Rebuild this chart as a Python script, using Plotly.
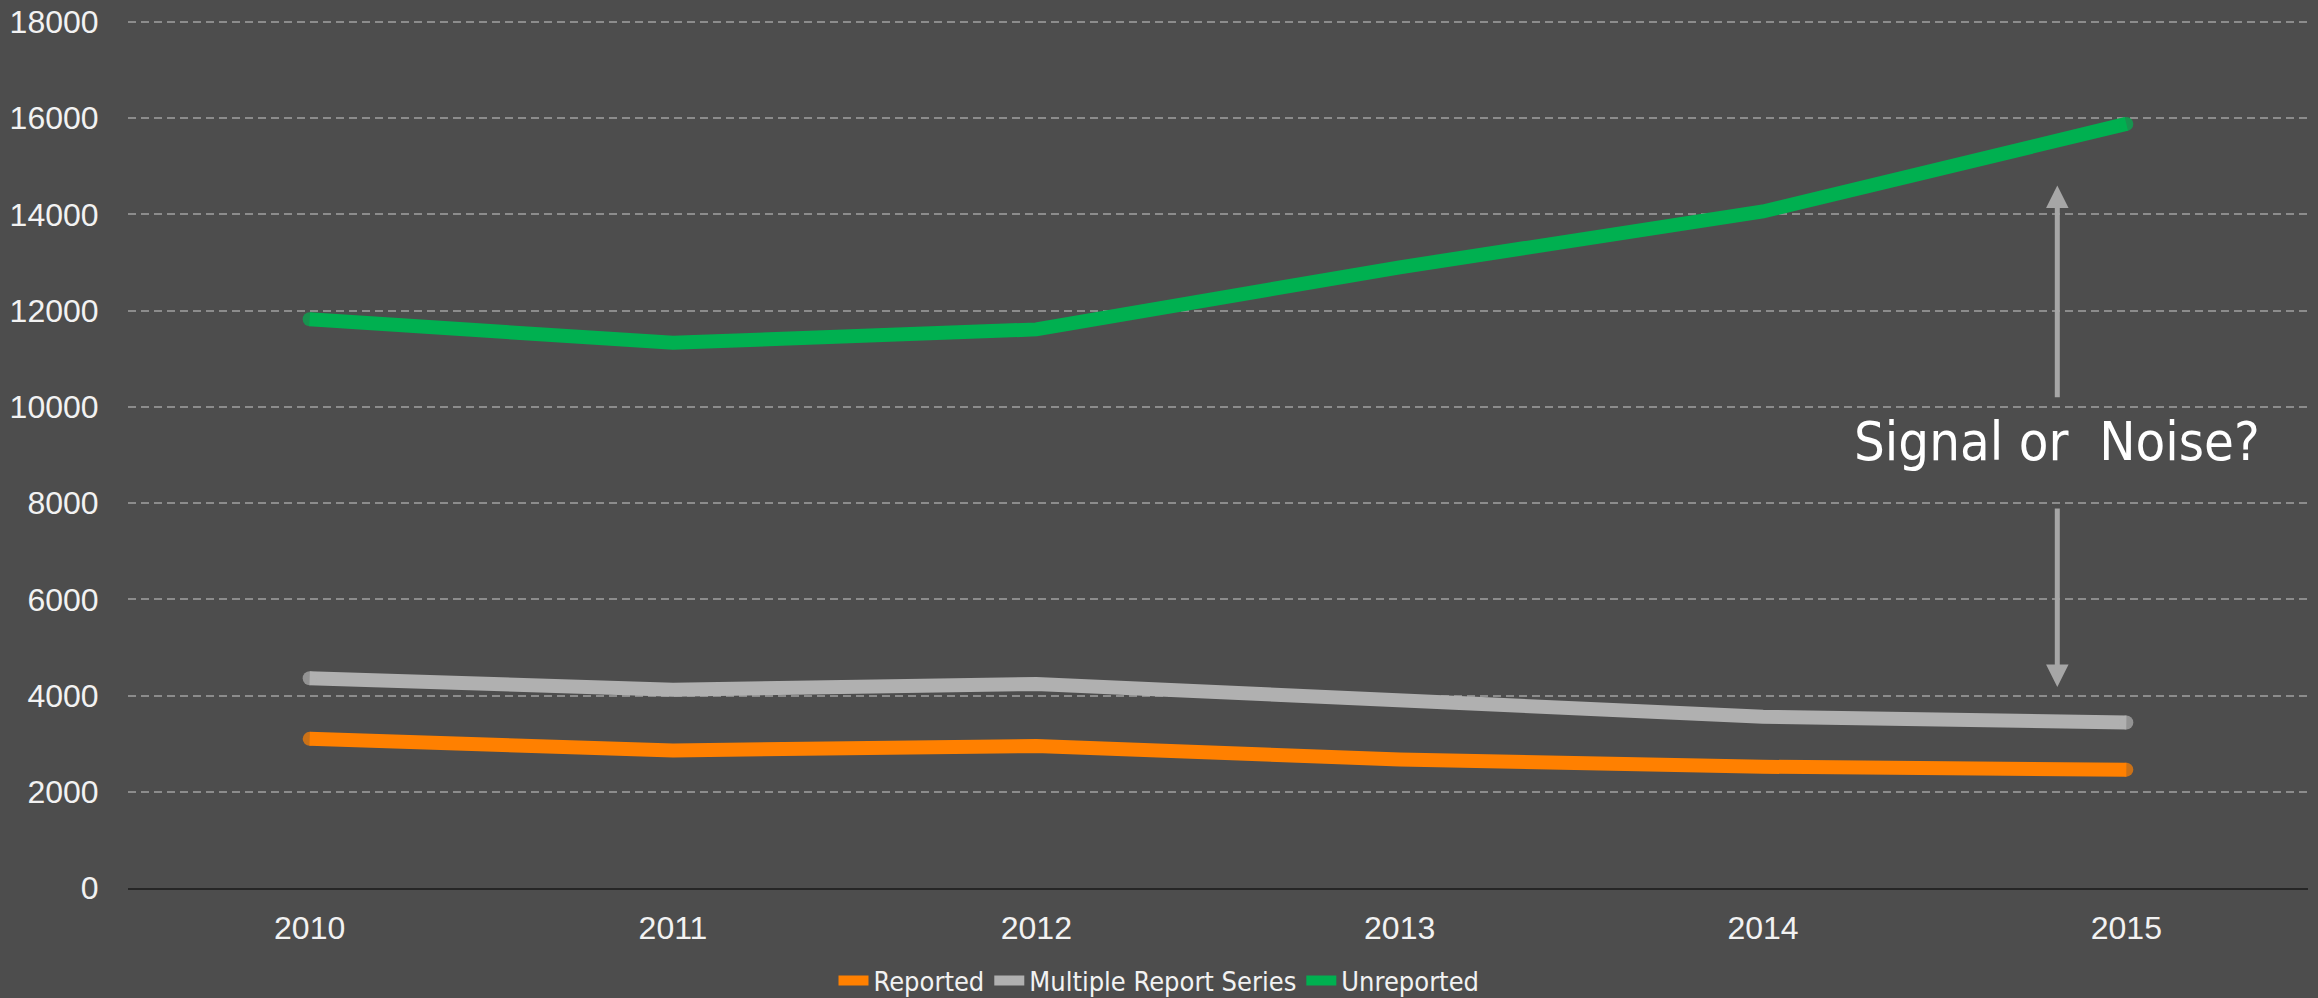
import plotly.graph_objects as go

years = [2010, 2011, 2012, 2013, 2014, 2015]
reported = [3100, 2860, 2950, 2670, 2520, 2460]
multiple = [4360, 4120, 4240, 3870, 3560, 3440]
unreported = [11820, 11330, 11610, 12900, 14060, 15880]

series_names = ["Reported", "Multiple Report Series", "Unreported"]
series_values = [reported, multiple, unreported]
series_colors = ["#FF8000", "#B0B0B0", "#00B050"]

y_ticks = [0, 2000, 4000, 6000, 8000, 10000, 12000, 14000, 16000, 18000]

annotation_text = "Signal or\u00a0 Noise?"

BG = "#4D4D4D"
TXT = "#F2F2F2"
LW = 14
NARROW = "DejaVu Sans Condensed, Liberation Sans Narrow, Liberation Sans, Arial"

fig = go.Figure()
for name, vals, col in zip(series_names, series_values, series_colors):
    caps = [LW if i in (0, len(vals) - 1) else 0 for i in range(len(vals))]
    fig.add_trace(go.Scatter(
        x=years, y=vals, name=name, mode="lines+markers",
        line=dict(color=col, width=LW),
        marker=dict(size=caps, color=col, line=dict(width=0)),
    ))

fig.update_layout(
    width=2318, height=998,
    paper_bgcolor=BG, plot_bgcolor=BG,
    margin=dict(l=128, r=10, t=20, b=110, autoexpand=False),
    font=dict(family="Liberation Sans, Arial, sans-serif", color=TXT, size=32),
    showlegend=True,
    legend=dict(
        orientation="h", x=0.5, xanchor="center", xref="container",
        y=0.017, yanchor="middle", yref="container",
        font=dict(family=NARROW, size=27, color=TXT),
        itemwidth=30, bgcolor="rgba(0,0,0,0)",
    ),
    xaxis=dict(
        range=[2009.5, 2015.5], tickvals=years, ticktext=[str(y) for y in years],
        showgrid=False, zeroline=False,
        showline=True, linecolor="#262626", linewidth=2,
        ticks="outside", ticklen=11, tickcolor="rgba(0,0,0,0)",
        tickfont=dict(size=32, color=TXT),
    ),
    yaxis=dict(
        range=[0, 18040], tickvals=y_ticks, ticktext=[str(v) for v in y_ticks],
        showgrid=True, gridcolor="#8C8C8C", gridwidth=2, griddash="8px,5px",
        zeroline=False, showline=False,
        ticks="outside", ticklen=22, tickcolor="rgba(0,0,0,0)",
        tickfont=dict(size=32, color=TXT),
    ),
)

arrow_x = 2014.81
fig.add_annotation(x=arrow_x, y=14600, ax=arrow_x, ay=10170, axref="x", ayref="y",
                   xref="x", yref="y", text="", showarrow=True,
                   arrowhead=2, arrowsize=0.9, arrowwidth=5, arrowcolor="#A6A6A6")
fig.add_annotation(x=arrow_x, y=4180, ax=arrow_x, ay=7920, axref="x", ayref="y",
                   xref="x", yref="y", text="", showarrow=True,
                   arrowhead=2, arrowsize=0.9, arrowwidth=5, arrowcolor="#A6A6A6")
fig.add_annotation(x=arrow_x, y=9280, xref="x", yref="y", text=annotation_text,
                   showarrow=False, xanchor="center", yanchor="middle",
                   font=dict(family=NARROW, size=54, color="#FFFFFF"))

fig.write_html("out.html", config={"displayModeBar": False},
               post_script="document.body.style.margin='0';document.body.style.overflow='hidden';")
